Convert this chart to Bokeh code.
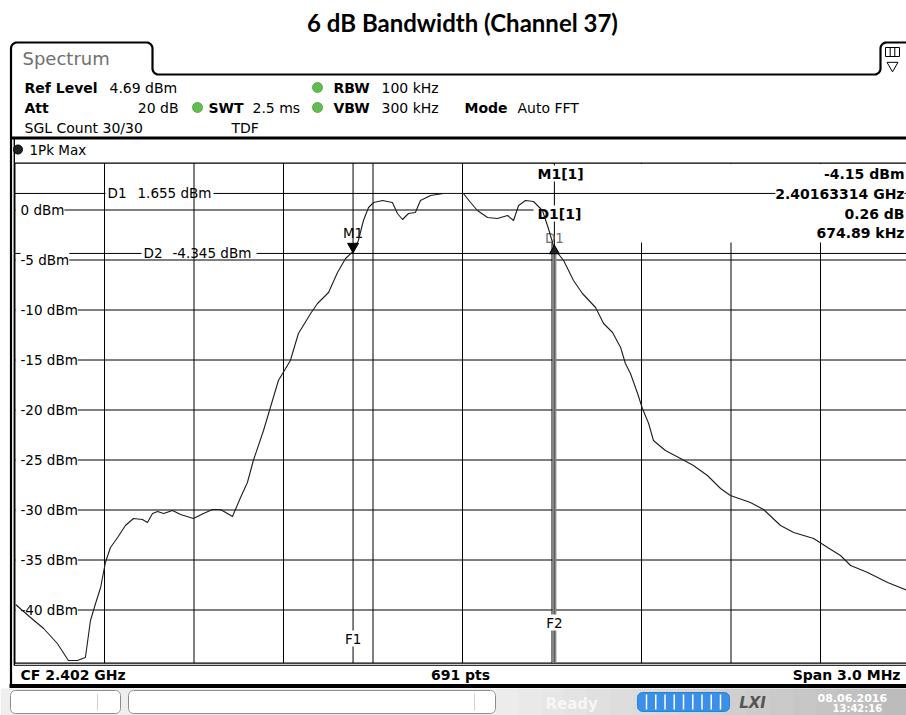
import numpy as np
from bokeh.plotting import figure
from bokeh.models import Range1d, Label
from bokeh.embed import file_html
from bokeh.resources import INLINE

# ---------------- values ----------------
title_text = "6 dB Bandwidth (Channel 37)"
center_freq_mhz = 2402.0
span_mhz = 3.0
ref_level_dbm = 4.69
display_range_db = 50.0
sweep_points = 691

freq_mhz = [
    2400.502, 2400.552, 2400.596, 2400.642, 2400.679, 2400.709, 2400.736, 2400.753, 2400.770, 2400.787,
    2400.803, 2400.820, 2400.844, 2400.870, 2400.897, 2400.927, 2400.944, 2400.961, 2400.978, 2400.998,
    2401.028, 2401.055, 2401.098, 2401.132, 2401.162, 2401.189, 2401.229, 2401.256, 2401.279, 2401.299,
    2401.333, 2401.356, 2401.383, 2401.423, 2401.450, 2401.491, 2401.514, 2401.551, 2401.581, 2401.608,
    2401.633, 2401.651, 2401.668, 2401.685, 2401.702, 2401.732, 2401.765, 2401.782, 2401.799, 2401.819,
    2401.842, 2401.859, 2401.893, 2401.936, 2402.003, 2402.027, 2402.050, 2402.084, 2402.117, 2402.151,
    2402.171, 2402.188, 2402.211, 2402.238, 2402.268, 2402.288, 2402.308, 2402.339, 2402.372, 2402.402,
    2402.446, 2402.473, 2402.503, 2402.530, 2402.546, 2402.563, 2402.587, 2402.603, 2402.624, 2402.640,
    2402.680, 2402.731, 2402.774, 2402.821, 2402.865, 2402.898, 2402.965, 2403.009, 2403.066, 2403.110,
    2403.177, 2403.224, 2403.267, 2403.301, 2403.358, 2403.425, 2403.492]

level_dbm = [
    -39.45, -40.75, -41.85, -43.35, -45.05, -45.05, -44.75, -41.05, -39.35, -37.75,
    -35.25, -33.75, -32.75, -31.55, -30.85, -30.95, -31.25, -30.35, -30.15, -30.35,
    -30.05, -30.45, -30.85, -30.35, -29.95, -29.95, -30.65, -28.75, -27.25, -25.05,
    -22.05, -19.75, -17.05, -15.05, -12.35, -10.35, -9.35, -8.25, -6.25, -4.85,
    -4.15, -3.05, -1.05, 0.25, 0.75, 0.95, 0.75, -0.35, -0.95, -0.35,
    -0.25, 0.95, 1.45, 1.65, 1.65, 0.75, -0.05, -0.75, -0.85, -0.55,
    -1.05, 0.45, 0.95, 0.85, -0.05, -1.85, -3.89, -5.05, -7.05, -8.35,
    -9.75, -11.35, -12.25, -13.75, -15.35, -16.35, -18.35, -19.85, -21.35, -23.05,
    -24.05, -24.85, -25.55, -26.55, -27.85, -28.55, -29.25, -29.95, -31.55, -32.25,
    -32.85, -33.75, -34.55, -35.55, -36.25, -37.25, -38.05]

grid_freq_mhz = [2400.8, 2401.1, 2401.4, 2401.7, 2402.0, 2402.3, 2402.6, 2402.9, 2403.2]
grid_level_dbm = [0, -5, -10, -15, -20, -25, -30, -35, -40]

m1_freq_ghz = 2.40163314
m1_level_dbm = -4.15
d1_delta_khz = 674.89
d1_delta_db = 0.26
d1_line_dbm = 1.655
d2_line_dbm = -4.345

ref_text = "4.69 dBm"
att_text = "20 dB"
swt_text = "2.5 ms"
rbw_text = "100 kHz"
vbw_text = "300 kHz"
mode_text = "Auto FFT"
count_text = "SGL Count 30/30"
tdf_text = "TDF"
trace_text = "1Pk Max"
status_text = "Ready"
date_text = "08.06.2016"
time_text = "13:42:16"

# ---------------- derived values ----------------
m1_mhz = m1_freq_ghz * 1000.0
d1_mhz = m1_mhz + d1_delta_khz / 1000.0
d1_level = m1_level_dbm + d1_delta_db
f_left = center_freq_mhz - span_mhz / 2
f_right = center_freq_mhz + span_mhz / 2
db_bottom = ref_level_dbm - display_range_db

# ---------------- layout (screen pixels of the window) ----------------
W, H = 906, 715
GRID_L, GRID_R, GRID_T, GRID_B = 14.5, 909.5, 162.6, 662.6
mhz_per_px = span_mhz / (GRID_R - GRID_L)
db_per_px = display_range_db / (GRID_B - GRID_T)


def f_at(xpx):
    return f_left + (xpx - GRID_L) * mhz_per_px


def db_at(ypx):
    return ref_level_dbm - (ypx - GRID_T) * db_per_px


FONT = "DejaVu Sans"

p = figure(width=W, height=H,
           x_range=Range1d(f_at(0), f_at(W)), y_range=Range1d(db_at(H), db_at(0)),
           output_backend="svg", toolbar_location=None, min_border=0,
           x_axis_location=None, y_axis_location=None, title=None,
           background_fill_color="white", border_fill_color="white",
           outline_line_color=None)
p.grid.visible = False
p.extra_x_ranges = {"px": Range1d(0, W)}
p.extra_y_ranges = {"px": Range1d(H, 0)}

PX = dict(x_range_name="px", y_range_name="px")


def lbl(x, y, text, size=14, bold=False, color="black", align="left", bg=None,
        font=FONT, xr="px", yr="px", italic=False):
    style = "normal"
    if bold and italic:
        style = "bold italic"
    elif bold:
        style = "bold"
    elif italic:
        style = "italic"
    p.add_layout(Label(x=x, y=y, text=text, text_font=font, text_font_size=f"{size}px",
                       text_font_style=style, text_color=color, text_align=align,
                       text_baseline="middle", background_fill_color=bg,
                       x_range_name=xr, y_range_name=yr))


def arc(cx, cy, r, a0, a1, n=8):
    t = np.radians(np.linspace(a0, a1, n))
    return list(cx + r * np.cos(t)), list(cy + r * np.sin(t))


def rrect(x0, y0, x1, y1, r):
    xs, ys = [], []
    for cx, cy, a0, a1 in [(x1 - r, y0 + r, -90, 0), (x1 - r, y1 - r, 0, 90),
                           (x0 + r, y1 - r, 90, 180), (x0 + r, y0 + r, 180, 270)]:
        ax, ay = arc(cx, cy, r, a0, a1)
        xs += ax
        ys += ay
    return xs, ys


# ---------------- status bar (bottom) ----------------
p.quad(left=[0], right=[495], top=[688], bottom=[H], fill_color="#eeeeee", line_color=None, **PX)
n_str = 18
edges = np.linspace(495, W, n_str + 1)
shades = np.linspace(0xec, 0xbc, n_str).astype(int)
p.quad(left=list(edges[:-1]), right=list(edges[1:] + 0.5), top=[688] * n_str, bottom=[H] * n_str,
       fill_color=["#%02x%02x%02x" % (s, s, s) for s in shades], line_color=None, **PX)
for (x0, x1, xin) in [(10, 120, 97), (128, 495, 474)]:
    bx, by = rrect(x0, 690, x1, 713, 5)
    p.patch(bx, by, fill_color="white", line_color="#8c8c8c", line_width=1, **PX)
    p.line([xin, xin], [693, 710], line_color="#d0d0d0", line_width=1, **PX)
bx, by = rrect(637, 692, 729, 711, 5)
p.patch(bx, by, fill_color="#3a8fe8", line_color="#2f7fd6", line_width=1, **PX)
div_x = list(np.linspace(646, 720, 9))
p.segment(x0=div_x, y0=[694] * 9, x1=div_x, y1=[709] * 9, line_color="white", line_width=1.5, **PX)
lbl(545, 703, status_text, size=15, bold=True, color="#f6f6f6")
lbl(752, 702, "LXI", size=15, bold=True, italic=True, color="#555555", align="center")
lbl(817, 697, date_text, size=11, bold=True, color="white")
lbl(832, 708, time_text, size=10, bold=True, color="white")

# ---------------- panel chrome ----------------
tx, ty = [10.5], [686.0]
for seg in [arc(16.5, 48, 6, 180, 270), arc(146, 48, 6, 270, 360), arc(158, 68, 6, 180, 90),
            arc(874, 68, 6, 90, 0), arc(886, 48, 6, 180, 270)]:
    tx += seg[0]
    ty += seg[1]
tx.append(912)
ty.append(42)
p.line(tx, ty, line_color="black", line_width=2.2, **PX)
# icon in the right tab
p.quad(left=[885], right=[899], top=[47], bottom=[56], fill_color="white", line_color="black",
       line_width=1, **PX)
p.segment(x0=[889.7, 894.3], y0=[47, 47], x1=[889.7, 894.3], y1=[56, 56], line_color="black", **PX)
p.scatter([892], [65], marker="inverted_triangle", size=11, fill_color=None, line_color="black",
          line_width=1, **PX)
lbl(22, 58, "Spectrum", size=18, color="#707070")

# header settings
lbl(24, 87, "Ref Level", bold=True)
lbl(109, 87, ref_text)
lbl(333, 87, "RBW", bold=True)
lbl(381, 87, rbw_text)
lbl(24, 107, "Att", bold=True)
lbl(178, 107, att_text, align="right")
lbl(208, 107, "SWT", bold=True)
lbl(252, 107, swt_text)
lbl(333, 107, "VBW", bold=True)
lbl(381, 107, vbw_text)
lbl(464, 107, "Mode", bold=True)
lbl(517, 107, mode_text)
lbl(24, 127, count_text)
lbl(231, 127, tdf_text)
p.scatter([317, 197, 317], [87, 107, 107], marker="circle", size=10, fill_color="#62bd4f",
          line_color="#4a9a3c", line_width=0.8, **PX)

# trace window frame
p.line([10, 912], [137.5, 137.5], line_color="black", line_width=3, **PX)
p.line([13.8, 13.8], [137, 665], line_color="black", line_width=1.4, **PX)
p.scatter([17.5], [149], marker="circle", size=9, fill_color="#222222", line_color="black", **PX)
lbl(29, 149, trace_text, size=13.5)

# bottom info bar
p.line([13.8, 912], [664.8, 664.8], line_color="black", line_width=1, **PX)
p.line([9, 912], [685.5, 685.5], line_color="black", line_width=4, **PX)
lbl(20, 674, f"CF {center_freq_mhz / 1000:.3f} GHz", size=14, bold=True)
lbl(460, 674, f"{sweep_points} pts", size=14, bold=True, align="center")
lbl(900, 674, f"Span {span_mhz:.1f} MHz", size=14, bold=True, align="right")

# title
lbl(462, 22, title_text, size=24, bold=True, font="Lato", align="center")

# ---------------- diagram grid ----------------
ng = len(grid_freq_mhz)
p.segment(x0=grid_freq_mhz, y0=[ref_level_dbm] * ng, x1=grid_freq_mhz, y1=[db_bottom] * ng,
          line_color="black", line_width=1)
nl = len(grid_level_dbm)
p.segment(x0=[f_left] * nl, y0=grid_level_dbm, x1=[f_right] * nl, y1=grid_level_dbm,
          line_color="black", line_width=1)
# frame of the diagram
p.segment(x0=[f_left, f_left, f_left], y0=[ref_level_dbm, ref_level_dbm, db_bottom],
          x1=[f_left, f_right, f_right], y1=[db_bottom, ref_level_dbm, db_bottom],
          line_color="black", line_width=1.2)
# white strip left of the level labels and marker-info area
p.quad(left=[15.3], right=[20.5], top=[GRID_T + 1], bottom=[GRID_B - 1], fill_color="white",
       line_color=None, **PX)
p.quad(left=[533], right=[912], top=[GRID_T + 0.8], bottom=[242], fill_color="white",
       line_color=None, **PX)

# display lines D1 / D2 (interrupted by their labels)
p.segment(x0=[f_left, f_at(213), f_left, f_at(256)],
          y0=[d1_line_dbm, d1_line_dbm, d2_line_dbm, d2_line_dbm],
          x1=[f_at(105), f_right, f_at(141), f_right],
          y1=[d1_line_dbm, d1_line_dbm, d2_line_dbm, d2_line_dbm],
          line_color="black", line_width=1)
lbl(107, d1_line_dbm, "D1", size=13.5, yr="default")
lbl(137, d1_line_dbm, f"{d1_line_dbm:.3f} dBm", size=13.5, yr="default")
lbl(143, d2_line_dbm, "D2", size=13.5, yr="default")
lbl(172, d2_line_dbm, f"{d2_line_dbm:.3f} dBm", size=13.5, yr="default")

# frequency lines F1 / F2 and delta marker line
p.line([m1_mhz, m1_mhz], [ref_level_dbm, db_bottom], line_color="black", line_width=1)
p.line([d1_mhz, d1_mhz], [ref_level_dbm, d1_level], line_color="black", line_width=1)
p.line([d1_mhz, d1_mhz], [d1_level, db_bottom], line_color="#8a8a8a", line_width=4)
p.line([d1_mhz, d1_mhz], [d1_level, db_bottom], line_color="#5a5a5a", line_width=1)
lbl(m1_mhz, 638, "F1", size=13.5, align="center", bg="white", xr="default")
lbl(d1_mhz, 622, "F2", size=13.5, align="center", bg="white", xr="default")

# level labels
for lv in grid_level_dbm:
    lbl(20, lv, f"{lv} dBm", size=13.5, bg="white", yr="default")

# marker info
lbl(537, 173, "M1[1]", size=14, bold=True, bg="white")
lbl(537, 213, "D1[1]", size=14, bold=True, bg="white")
lbl(904, 173, f"{m1_level_dbm:.2f} dBm", size=14, bold=True, bg="white", align="right")
lbl(904, 193, f"{m1_freq_ghz:.8f} GHz", size=14, bold=True, bg="white", align="right")
lbl(904, 213, f"{d1_delta_db:.2f} dB", size=14, bold=True, bg="white", align="right")
lbl(904, 232, f"{d1_delta_khz:.2f} kHz", size=14, bold=True, bg="white", align="right")
lbl(m1_mhz, 232, "M1", size=13.5, align="center", xr="default")
lbl(d1_mhz, 237, "D1", size=13.5, align="center", color="#707070", xr="default")

# ---------------- trace ----------------
p.line(freq_mhz, level_dbm, line_color="#1e1e1e", line_width=1.1, level="overlay")

# markers
p.scatter([m1_mhz], [m1_level_dbm + 5 * db_per_px], marker="inverted_triangle", size=11,
          fill_color="black", line_color="black", level="overlay")
p.scatter([d1_mhz], [d1_level - 2 * db_per_px], marker="triangle", size=10,
          fill_color="#222222", line_color="black", level="overlay")

open("out.html", "w").write(file_html(p, INLINE))
